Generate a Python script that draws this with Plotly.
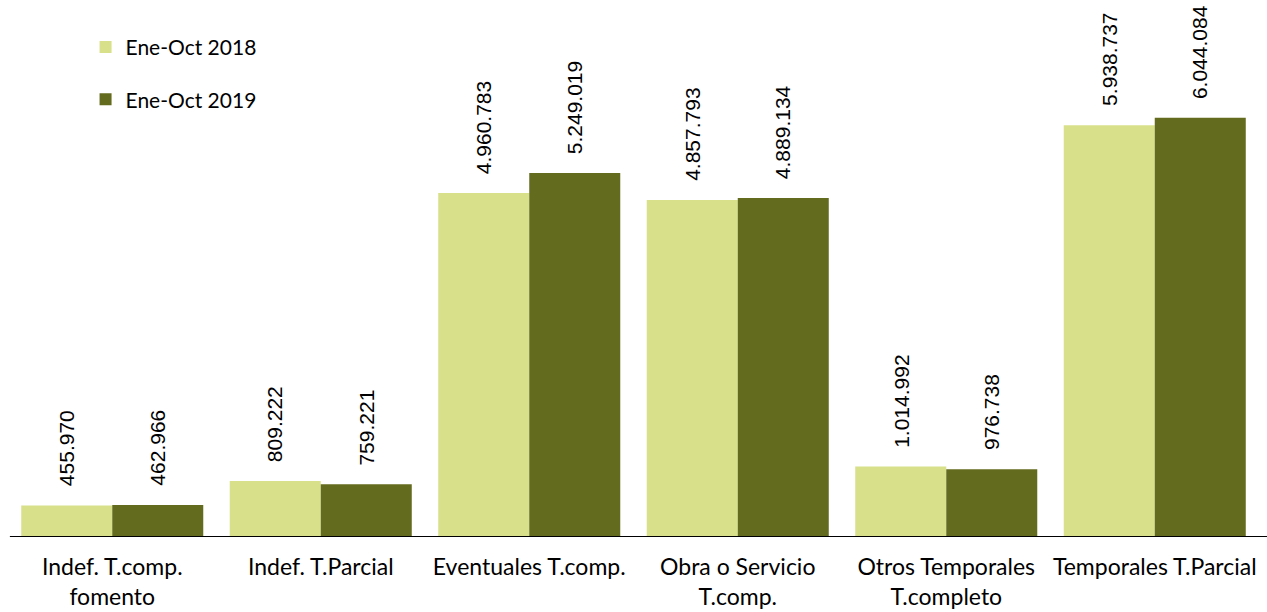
import plotly.graph_objects as go

categories = [
    "Indef. T.comp.<br>fomento",
    "Indef. T.Parcial",
    "Eventuales T.comp.",
    "Obra o Servicio<br>T.comp.",
    "Otros Temporales<br>T.completo",
    "Temporales T.Parcial",
]
series_names = ["Ene-Oct 2018", "Ene-Oct 2019"]
values_2018 = [455970, 809222, 4960783, 4857793, 1014992, 5938737]
values_2019 = [462966, 759221, 5249019, 4889134, 976738, 6044084]
colors = ["#d8e08a", "#636b1e"]


def fmt_es(v):
    return f"{v:,}".replace(",", ".")


fig = go.Figure()
for i, (name, vals) in enumerate(zip(series_names, [values_2018, values_2019])):
    fig.add_trace(go.Bar(
        x=categories, y=vals, name=name,
        marker=dict(color=colors[i], line=dict(width=0)),
        legendgroup=name,
    ))

# rotated value labels above each bar
shift = 45.5
for i, vals in enumerate([values_2018, values_2019]):
    for c, v in zip(categories, vals):
        fig.add_annotation(
            x=c, y=v, xref="x", yref="y", text=fmt_es(v), showarrow=False,
            textangle=-90, xanchor="center", yanchor="bottom",
            xshift=-shift if i == 0 else shift, yshift=17,
            font=dict(family="Liberation Sans", size=21, color="#000000"),
        )

# baseline rule
fig.add_shape(type="line", xref="paper", yref="y", x0=0.0015, x1=1.0065, y0=0, y1=0,
              line=dict(color="#000000", width=2))

fig.update_layout(
    width=1267, height=612,
    margin=dict(l=8, r=8, t=0, b=75),
    paper_bgcolor="white", plot_bgcolor="white",
    barmode="group", bargap=0.127, bargroupgap=0,
    font=dict(family="Lato", size=20, color="#000000"),
    legend=dict(x=0.062, y=0.95, xanchor="left", yanchor="top",
                tracegroupgap=22, font=dict(size=21), bgcolor="rgba(0,0,0,0)"),
    xaxis=dict(showgrid=False, showline=False, ticks="", ticklabelstandoff=14,
               tickfont=dict(size=23)),
    yaxis=dict(visible=False, range=[0, 7.743e6]),
)

fig.write_html("out.html")
